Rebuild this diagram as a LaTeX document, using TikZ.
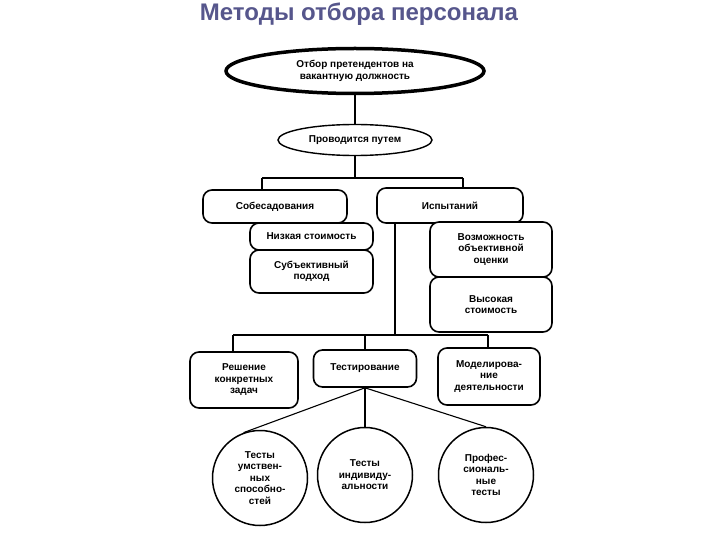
\documentclass[tikz,border=0pt]{standalone}
\usepackage{fontspec}
\setmainfont{Liberation Sans}
\usetikzlibrary{shapes.geometric}
\definecolor{titleblue}{RGB}{86,86,140}
\begin{document}
\begin{tikzpicture}[
    x=1pt, y=-1pt,
    font=\fontsize{10}{11.5}\selectfont\bfseries,
    box/.style={rectangle, rounded corners=9pt, draw, line width=1.6pt, fill=white, align=center, inner sep=2pt},
    oval/.style={ellipse, draw, line width=1.4pt, align=center, inner sep=0pt},
    circ/.style={circle, draw, line width=1.5pt, align=center, minimum size=95pt, inner sep=0pt},
    link/.style={line width=1.1pt}
]
    \useasboundingbox (0,0) rectangle (720,540);

    % Title
    \node[font=\fontsize{24}{27}\selectfont\bfseries, text=titleblue] (title) at (359,14) {Методы отбора персонала};

    % Ovals
    \node[oval, line width=3.5pt, minimum width=258pt, minimum height=45pt] (top) at (355,71) {Отбор претендентов на\\вакантную должность};
    \node[oval, minimum width=154pt, minimum height=31pt] (way) at (355,140) {Проводится путем};

    % Methods
    \node[box, minimum width=144pt, minimum height=33pt] (sobes) at (275,206.5) {Собесадования};
    \node[box, minimum width=146pt, minimum height=35pt] (ispyt) at (450,205.5) {Испытаний};

    % Properties
    \node[box, minimum width=123pt, minimum height=27pt] (cheap) at (311.5,236.5) {Низкая стоимость};
    \node[box, minimum width=123pt, minimum height=43pt] (subj) at (311.5,271.5) {Субъективный\\подход};
    \node[box, minimum width=122pt, minimum height=55pt] (objct) at (491,249.5) {Возможность\\объективной\\оценки};
    \node[box, minimum width=122pt, minimum height=55pt] (dear) at (491,304.5) {Высокая\\стоимость};

    % Kinds of tests
    \node[box, minimum width=108pt, minimum height=56pt] (tasks) at (244,380) {Решение\\конкретных\\задач};
    \node[box, minimum width=103pt, minimum height=37pt] (testing) at (365,368.5) {Тестирование};
    \node[box, minimum width=102pt, minimum height=57pt] (model) at (489,376.5) {Моделирова-\\ние\\деятельности};

    % Tests
    \node[circ] (mind) at (260,478) {Тесты\\умствен-\\ных\\способно-\\стей};
    \node[circ] (pers) at (365,475) {Тесты\\индивиду-\\альности};
    \node[circ] (prof) at (486,475) {Профес-\\сиональ-\\ные\\тесты};

    % Junctions
    \coordinate (jl) at (262,178);
    \coordinate (jr) at (463,178);
    \coordinate (kl) at (233,335);
    \coordinate (kr) at (488,335);
    \coordinate (kd) at (395,335);

    % Lines
    \draw[link] (top) -- (way);
    \draw[link] (way.south) -- (way.south |- jl);
    \draw[link] (jl) -- (jr);
    \draw[link] (jl) -- (jl |- sobes.north);
    \draw[link] (jr) -- (jr |- ispyt.north);
    \draw[link] (kd |- ispyt.south) -- (kd);
    \draw[link] (kl) -- (kr);
    \draw[link] (kl) -- (kl |- tasks.north);
    \draw[link] (kr) -- (kr |- model.north);
    \draw[link] (testing.north) -- (testing.north |- kl);
    \draw[link] (testing.south) -- (mind.110);
    \draw[link] (testing.south) -- (pers.north);
    \draw[link] (testing.south) -- (prof.north);

\end{tikzpicture}
\end{document}
